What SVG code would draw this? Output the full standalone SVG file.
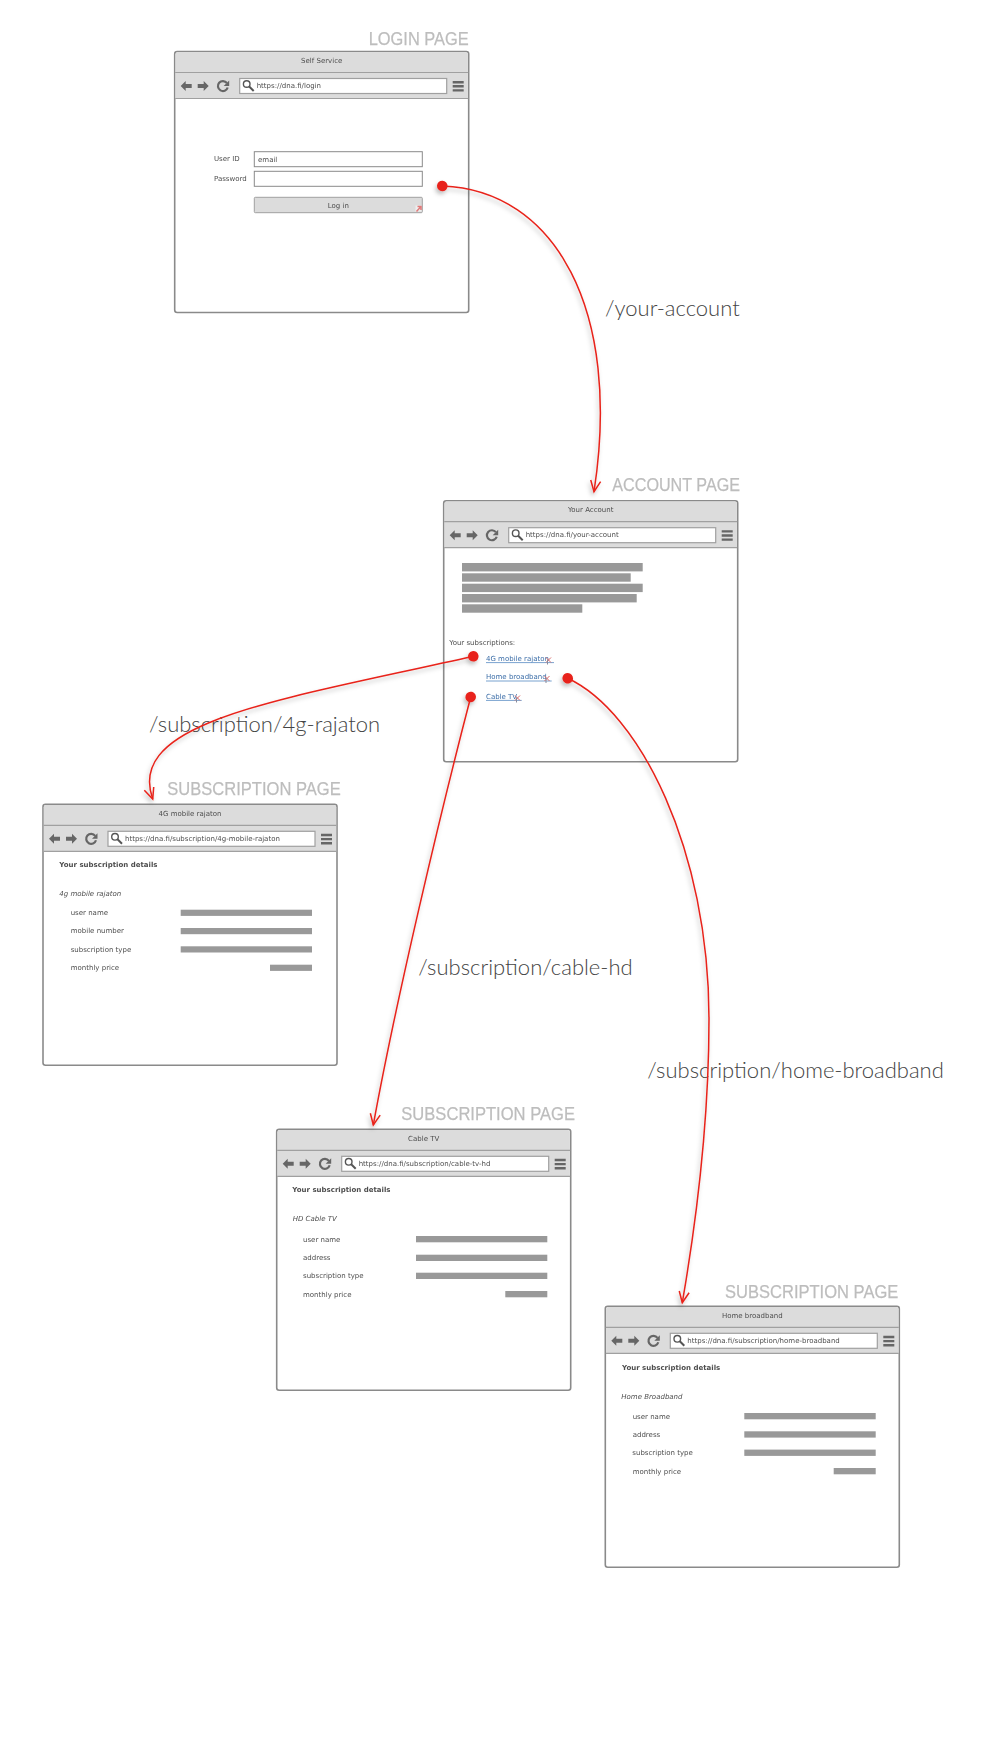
<svg xmlns="http://www.w3.org/2000/svg" xmlns:xlink="http://www.w3.org/1999/xlink" width="1000" height="1737" viewBox="0 0 1000 1737">
<style>
text{font-family:"DejaVu Sans","Liberation Sans",sans-serif;font-size:7px;fill:#4d4d4d}
.c{text-anchor:middle}
.b{font-weight:bold}
.i{font-style:italic}
.lnk{fill:#3c6ea8}
.ul{stroke:#6a97c9;stroke-width:.9}
.bar{fill:#999}
.fld{fill:#fff;stroke:#8a8a8a;stroke-width:1}
.sec{font-family:"Liberation Sans Narrow","Liberation Sans",sans-serif;font-size:19px;fill:#bdbdbd;stroke:#bdbdbd;stroke-width:.25}
.rt{font-family:Lato,"Noto Sans",sans-serif;font-weight:300;font-size:22px;fill:#444}
.wire{fill:none;stroke:#e8231a;stroke-width:1.5;marker-start:url(#dot);marker-end:url(#vee)}
.soft{filter:url(#soft)}
</style>
<defs>
<filter id="soft" x="-5%" y="-5%" width="110%" height="110%"><feGaussianBlur stdDeviation="0.3"/></filter>
<filter id="sh" filterUnits="userSpaceOnUse" x="0" y="0" width="1000" height="1737"><feDropShadow dx="-1.5" dy="3" stdDeviation="2" flood-color="#000" flood-opacity=".25"/></filter>
<marker id="dot" markerUnits="userSpaceOnUse" markerWidth="12" markerHeight="12" refX="6" refY="6" orient="auto"><circle cx="6" cy="6" r="5.3" fill="#e8231a"/></marker>
<marker id="vee" markerUnits="userSpaceOnUse" markerWidth="14" markerHeight="14" refX="12" refY="7" orient="auto"><path d="M1,2L12,7L1,12" fill="none" stroke="#e8231a" stroke-width="1.5"/></marker>
<g id="chrome">
<rect x="0" y="0" width="294" height="261" rx="2.5" fill="#fff" stroke="#8a8a8a" stroke-width="1.6"/>
<path d="M.8,3Q.8,.8 3,.8H291Q293.2,.8 293.2,3V47H.8Z" fill="#dcdcdc"/>
<path d="M.5,21H293.5M.5,47H293.5" stroke="#a0a0a0" stroke-width="1.2" fill="none"/>
<rect x="65" y="27" width="207" height="15" fill="#fff" stroke="#a0a0a0" stroke-width="1.2"/>
<path d="M6,34.5L11,29.5V32.5H17V36.5H11V39.5Z" fill="#666"/>
<path d="M34,34.5L29,29.5V32.5H23V36.5H29V39.5Z" fill="#666"/>
<path d="M52.2,31.5A5,5 0 1 0 53,36" fill="none" stroke="#666" stroke-width="2.2"/>
<path d="M54.5,29V34.5H49Z" fill="#666"/>
<circle cx="72" cy="32.5" r="3.3" fill="none" stroke="#555" stroke-width="1.4"/>
<path d="M74.5,35L79,39.5" stroke="#555" stroke-width="2"/>
<path d="M278,29.5h11v2.4h-11zM278,33.6h11v2.4h-11zM278,37.7h11v2.4h-11z" fill="#666"/>
</g>
<g id="mark"><rect x="0" y="0" width="6" height="6" fill="#eee"/><path d="M1,6L5.5,1M2,1H5.5V4.5" fill="none" stroke="#e07a7a" stroke-width="1.5"/></g>
<g id="linkmark"><path d="M0,0L5,5M5,0L0,5" stroke="#d96a6a" stroke-width="1"/><path d="M1.5,2V7" stroke="#8a8a9a" stroke-width="1"/></g>
</defs>
<rect width="1000" height="1737" fill="#fff"/>

<g id="login-page" class="soft">
<text class="sec" x="368.7" y="44.7" textLength="100" lengthAdjust="spacingAndGlyphs">LOGIN PAGE</text>
<use href="#chrome" transform="translate(174.7,51.5)"/>
<text class="c" x="321.7" y="63">Self Service</text>
<text x="256.7" y="87.5">https://dna.fi/login</text>
<text x="214" y="161">User ID</text>
<text x="214" y="180.5">Password</text>
<rect class="fld" x="254.3" y="151.7" width="168" height="15"/>
<rect class="fld" x="254.3" y="171.3" width="168" height="15"/>
<text x="258" y="161.5">email</text>
<rect x="254.3" y="197.3" width="168" height="15.4" rx="1" fill="#dcdcdc" stroke="#a0a0a0"/>
<text class="c" x="338.3" y="207.5">Log in</text>
<use href="#mark" transform="translate(415.5,205.5)"/>
</g>

<g id="account-page" class="soft">
<text class="sec" x="612.3" y="490.7" textLength="127.7" lengthAdjust="spacingAndGlyphs">ACCOUNT PAGE</text>
<use href="#chrome" transform="translate(443.7,500.7)"/>
<text class="c" x="590.7" y="512">Your Account</text>
<text x="525.7" y="536.5">https://dna.fi/your-account</text>
<rect class="bar" x="462" y="563" width="180.7" height="8.4"/>
<rect class="bar" x="462" y="573.3" width="168.7" height="8.4"/>
<rect class="bar" x="462" y="583.7" width="180.7" height="8.4"/>
<rect class="bar" x="462" y="594" width="174.7" height="8.4"/>
<rect class="bar" x="462" y="604.3" width="120.3" height="8.4"/>
<text x="449.3" y="645">Your subscriptions:</text>
<text class="lnk" x="486" y="660.5">4G mobile rajaton</text>
<path class="ul" d="M486,662.6H554"/>
<use href="#linkmark" transform="translate(546,657.5)"/>
<text class="lnk" x="486" y="679">Home broadband</text>
<path class="ul" d="M486,681H551.7"/>
<use href="#linkmark" transform="translate(544.5,676)"/>
<text class="lnk" x="486" y="698.5">Cable TV</text>
<path class="ul" d="M486,700.4H521.7"/>
<use href="#linkmark" transform="translate(515,695.5)"/>
</g>

<g id="subscription-4g" class="soft">
<text class="sec" x="167.3" y="795" textLength="173.4" lengthAdjust="spacingAndGlyphs">SUBSCRIPTION PAGE</text>
<use href="#chrome" transform="translate(43,804.3)"/>
<text class="c" x="190" y="815.5">4G mobile rajaton</text>
<text x="125" y="841">https://dna.fi/subscription/4g-mobile-rajaton</text>
<text class="b" x="59.3" y="867">Your subscription details</text>
<text class="i" x="59.3" y="896">4g mobile rajaton</text>
<text x="70.7" y="915">user name</text>
<text x="70.7" y="933.3">mobile number</text>
<text x="70.7" y="951.6">subscription type</text>
<text x="70.7" y="970">monthly price</text>
<rect class="bar" x="180.7" y="909.7" width="131.3" height="6.2"/>
<rect class="bar" x="180.7" y="928" width="131.3" height="6.2"/>
<rect class="bar" x="180.7" y="946.3" width="131.3" height="6.2"/>
<rect class="bar" x="270" y="964.7" width="42" height="6.2"/>
</g>

<g id="subscription-cable" class="soft">
<text class="sec" x="401.3" y="1119.5" textLength="173.7" lengthAdjust="spacingAndGlyphs">SUBSCRIPTION PAGE</text>
<use href="#chrome" transform="translate(276.7,1129.3)"/>
<text class="c" x="423.7" y="1140.5">Cable TV</text>
<text x="358.7" y="1166">https://dna.fi/subscription/cable-tv-hd</text>
<text class="b" x="292.3" y="1192.3">Your subscription details</text>
<text class="i" x="292.7" y="1221.3">HD Cable TV</text>
<text x="303" y="1241.6">user name</text>
<text x="303" y="1260">address</text>
<text x="303" y="1278.3">subscription type</text>
<text x="303" y="1296.6">monthly price</text>
<rect class="bar" x="416" y="1236" width="131.3" height="6.3"/>
<rect class="bar" x="416" y="1254.7" width="131.3" height="6.3"/>
<rect class="bar" x="416" y="1272.7" width="131.3" height="6.3"/>
<rect class="bar" x="505.3" y="1291" width="42" height="6.3"/>
</g>

<g id="subscription-home" class="soft">
<text class="sec" x="725" y="1298" textLength="173.3" lengthAdjust="spacingAndGlyphs">SUBSCRIPTION PAGE</text>
<use href="#chrome" transform="translate(605.3,1306.3)"/>
<text class="c" x="752.3" y="1317.5">Home broadband</text>
<text x="687.3" y="1343">https://dna.fi/subscription/home-broadband</text>
<text class="b" x="622" y="1370">Your subscription details</text>
<text class="i" x="621.3" y="1399.3">Home Broadband</text>
<text x="632.7" y="1418.6">user name</text>
<text x="632.7" y="1437">address</text>
<text x="632.3" y="1455.3">subscription type</text>
<text x="632.7" y="1473.6">monthly price</text>
<rect class="bar" x="744.3" y="1413" width="131.4" height="6.3"/>
<rect class="bar" x="744.3" y="1431.3" width="131.4" height="6.3"/>
<rect class="bar" x="744.3" y="1449.6" width="131.4" height="6.3"/>
<rect class="bar" x="833.7" y="1468" width="42" height="6.3"/>
</g>

<g id="connectors">
<text class="rt" x="605" y="315.7">/your-account</text>
<text class="rt" x="149" y="731.7">/subscription/4g-rajaton</text>
<text class="rt" x="418.3" y="975">/subscription/cable-hd</text>
<text class="rt" x="647.3" y="1078">/subscription/home-broadband</text>
<g filter="url(#sh)">
<path class="wire" d="M442.3,186C555,190 622,310 594,491.7"/>
<path class="wire" d="M473.3,656.3C280,700 125,721 152.7,799"/>
<path class="wire" d="M470.7,697C440,815 396,1000 373.3,1125"/>
<path class="wire" d="M567.7,678.3C640,712 709,850 709,1019C709,1110 700,1200 682.3,1302.7"/>
</g>
</g>
</svg>
